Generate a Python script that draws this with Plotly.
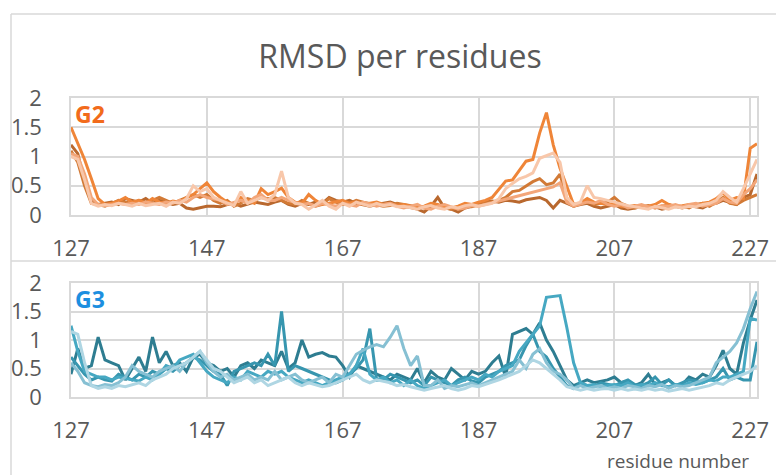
import plotly.graph_objects as go

residues = list(range(127, 229))

# ---- G2 series (RMSD per residue) ----
g2_dark = [1.20, 1.05, 0.55, 0.25, 0.18, 0.20, 0.22, 0.18, 0.28, 0.25,
           0.22, 0.28, 0.20, 0.25, 0.22, 0.18, 0.20, 0.12, 0.10, 0.12,
           0.15, 0.15, 0.14, 0.18, 0.20, 0.15, 0.18, 0.22, 0.20, 0.18,
           0.22, 0.25, 0.18, 0.15, 0.20, 0.18, 0.22, 0.20, 0.30, 0.25,
           0.22, 0.25, 0.20, 0.18, 0.15, 0.18, 0.20, 0.22, 0.18, 0.15,
           0.12, 0.10, 0.05, 0.15, 0.30, 0.12, 0.10, 0.05, 0.12, 0.15,
           0.20, 0.22, 0.24, 0.22, 0.25, 0.24, 0.22, 0.26, 0.28, 0.30,
           0.25, 0.12, 0.25, 0.20, 0.15, 0.18, 0.20, 0.15, 0.12, 0.15,
           0.18, 0.12, 0.10, 0.12, 0.15, 0.12, 0.14, 0.10, 0.12, 0.15,
           0.12, 0.16, 0.14, 0.12, 0.18, 0.20, 0.25, 0.22, 0.18, 0.30,
           0.35, 0.70]
g2_medium = [1.10, 0.90, 0.50, 0.20, 0.18, 0.15, 0.20, 0.25, 0.22, 0.20,
             0.25, 0.22, 0.25, 0.30, 0.25, 0.20, 0.25, 0.30, 0.35, 0.30,
             0.35, 0.25, 0.20, 0.25, 0.15, 0.20, 0.28, 0.25, 0.30, 0.28,
             0.30, 0.25, 0.20, 0.18, 0.25, 0.20, 0.15, 0.18, 0.28, 0.22,
             0.18, 0.20, 0.25, 0.22, 0.20, 0.18, 0.15, 0.16, 0.20, 0.18,
             0.16, 0.14, 0.12, 0.18, 0.15, 0.12, 0.10, 0.12, 0.15, 0.14,
             0.18, 0.20, 0.22, 0.25, 0.30, 0.40, 0.42, 0.50, 0.57, 0.62,
             0.52, 0.55, 0.70, 0.28, 0.15, 0.20, 0.25, 0.18, 0.20, 0.22,
             0.30, 0.20, 0.15, 0.12, 0.14, 0.16, 0.12, 0.15, 0.18, 0.14,
             0.15, 0.12, 0.18, 0.20, 0.15, 0.22, 0.30, 0.20, 0.18, 0.25,
             0.30, 0.35]
g2_bright = [1.50, 1.22, 0.95, 0.62, 0.28, 0.18, 0.20, 0.24, 0.30, 0.22,
             0.25, 0.20, 0.28, 0.22, 0.20, 0.24, 0.22, 0.30, 0.35, 0.45,
             0.55, 0.40, 0.30, 0.22, 0.18, 0.30, 0.25, 0.20, 0.45, 0.35,
             0.40, 0.46, 0.30, 0.22, 0.20, 0.35, 0.25, 0.18, 0.20, 0.22,
             0.25, 0.20, 0.22, 0.18, 0.20, 0.22, 0.18, 0.20, 0.16, 0.18,
             0.15, 0.12, 0.15, 0.20, 0.18, 0.14, 0.12, 0.15, 0.20, 0.18,
             0.22, 0.25, 0.30, 0.45, 0.58, 0.60, 0.75, 0.92, 0.95, 1.40,
             1.75, 1.20, 0.80, 0.50, 0.18, 0.20, 0.28, 0.22, 0.20, 0.18,
             0.20, 0.15, 0.14, 0.16, 0.14, 0.15, 0.18, 0.25, 0.18, 0.15,
             0.16, 0.18, 0.15, 0.20, 0.22, 0.28, 0.38, 0.25, 0.30, 0.28,
             1.14, 1.22]
g2_light = [1.05, 1.00, 0.70, 0.30, 0.18, 0.16, 0.18, 0.20, 0.18, 0.20,
            0.18, 0.22, 0.20, 0.18, 0.22, 0.20, 0.25, 0.22, 0.30, 0.35,
            0.30, 0.28, 0.25, 0.18, 0.22, 0.25, 0.20, 0.30, 0.35, 0.25,
            0.25, 0.30, 0.25, 0.22, 0.18, 0.20, 0.15, 0.20, 0.18, 0.15,
            0.20, 0.18, 0.15, 0.22, 0.18, 0.15, 0.18, 0.20, 0.15, 0.12,
            0.15, 0.18, 0.12, 0.10, 0.15, 0.18, 0.14, 0.10, 0.12, 0.16,
            0.15, 0.18, 0.22, 0.25, 0.28, 0.30, 0.33, 0.36, 0.40, 0.42,
            0.45, 0.48, 0.55, 0.22, 0.15, 0.18, 0.22, 0.20, 0.25, 0.18,
            0.15, 0.18, 0.12, 0.15, 0.18, 0.14, 0.12, 0.16, 0.15, 0.18,
            0.14, 0.18, 0.20, 0.15, 0.18, 0.20, 0.28, 0.22, 0.20, 0.35,
            0.45, 0.60]
g2_pale = [1.00, 0.95, 0.60, 0.20, 0.15, 0.18, 0.16, 0.20, 0.18, 0.15,
           0.20, 0.16, 0.18, 0.20, 0.15, 0.22, 0.20, 0.28, 0.50, 0.40,
           0.45, 0.30, 0.25, 0.20, 0.16, 0.40, 0.20, 0.25, 0.30, 0.25,
           0.35, 0.75, 0.30, 0.20, 0.18, 0.10, 0.18, 0.25, 0.15, 0.10,
           0.20, 0.15, 0.22, 0.18, 0.15, 0.20, 0.16, 0.18, 0.14, 0.15,
           0.12, 0.10, 0.14, 0.16, 0.12, 0.10, 0.14, 0.12, 0.16, 0.18,
           0.15, 0.18, 0.20, 0.28, 0.45, 0.54, 0.62, 0.66, 0.72, 0.97,
           1.02, 1.06, 0.90, 0.30, 0.18, 0.22, 0.50, 0.30, 0.28, 0.25,
           0.22, 0.18, 0.16, 0.14, 0.12, 0.10, 0.15, 0.12, 0.10, 0.14,
           0.12, 0.15, 0.14, 0.18, 0.20, 0.25, 0.40, 0.30, 0.22, 0.45,
           0.70, 0.95]

# ---- G3 series ----
g3_dark = [0.40, 0.85, 0.50, 0.55, 1.05, 0.65, 0.60, 0.55, 0.30, 0.50,
           0.70, 0.45, 1.05, 0.60, 0.80, 0.55, 0.60, 0.45, 0.70, 0.75,
           0.60, 0.55, 0.45, 0.50, 0.35, 0.55, 0.60, 0.50, 0.65, 0.60,
           0.55, 0.80, 0.50, 0.60, 1.00, 0.70, 0.75, 0.78, 0.72, 0.70,
           0.55, 0.35, 0.55, 0.50, 0.45, 0.40, 0.35, 0.30, 0.40, 0.35,
           0.30, 0.50, 0.25, 0.45, 0.35, 0.30, 0.50, 0.40, 0.30, 0.45,
           0.40, 0.45, 0.60, 0.72, 0.35, 1.10, 1.15, 1.20, 1.10, 1.30,
           1.00, 0.80, 0.55, 0.30, 0.20, 0.25, 0.30, 0.25, 0.28, 0.30,
           0.35, 0.25, 0.28, 0.20, 0.25, 0.40, 0.22, 0.25, 0.30, 0.20,
           0.22, 0.35, 0.30, 0.40, 0.35, 0.55, 0.82, 0.50, 0.40, 0.95,
           1.35, 1.70]
g3_medium = [0.70, 0.55, 0.40, 0.30, 0.35, 0.30, 0.28, 0.40, 0.35, 0.30,
             0.40, 0.35, 0.45, 0.40, 0.50, 0.45, 0.55, 0.60, 0.70, 0.65,
             0.55, 0.45, 0.40, 0.20, 0.45, 0.50, 0.55, 0.60, 0.55, 0.75,
             0.55, 1.50, 0.45, 0.55, 0.50, 0.45, 0.40, 0.35, 0.30, 0.25,
             0.30, 0.40, 0.50, 0.65, 1.20, 0.30, 0.30, 0.40, 0.35, 0.30,
             0.25, 0.30, 0.20, 0.35, 0.30, 0.25, 0.20, 0.30, 0.35, 0.28,
             0.25, 0.35, 0.40, 0.45, 0.55, 0.60, 0.65, 0.90, 1.10, 0.80,
             0.70, 0.50, 0.35, 0.20, 0.15, 0.25, 0.20, 0.18, 0.25, 0.22,
             0.20, 0.25, 0.30, 0.22, 0.20, 0.25, 0.35, 0.22, 0.30, 0.20,
             0.25, 0.30, 0.28, 0.25, 0.30, 0.35, 0.50, 0.30, 0.35, 0.30,
             0.30, 0.97]
g3_bright = [1.25, 0.80, 0.45, 0.40, 0.35, 0.35, 0.30, 0.35, 0.32, 0.30,
             0.28, 0.35, 0.30, 0.40, 0.55, 0.50, 0.65, 0.70, 0.75, 0.60,
             0.45, 0.35, 0.30, 0.25, 0.35, 0.30, 0.45, 0.40, 0.35, 0.45,
             0.40, 0.45, 0.35, 0.30, 0.25, 0.30, 0.25, 0.20, 0.25, 0.30,
             0.35, 0.40, 0.55, 0.85, 0.40, 0.30, 0.35, 0.25, 0.30, 0.20,
             0.30, 0.20, 0.15, 0.20, 0.25, 0.30, 0.20, 0.25, 0.30, 0.35,
             0.30, 0.40, 0.35, 0.45, 0.50, 0.55, 0.80, 0.95, 1.10, 1.25,
             1.75, 1.76, 1.78, 1.22, 0.60, 0.25, 0.20, 0.22, 0.18, 0.20,
             0.22, 0.20, 0.25, 0.18, 0.22, 0.20, 0.25, 0.20, 0.18, 0.22,
             0.20, 0.25, 0.22, 0.25, 0.30, 0.28, 0.35, 0.35, 0.40, 0.45,
             1.38, 1.35]
g3_light = [0.60, 0.45, 0.25, 0.20, 0.18, 0.22, 0.20, 0.25, 0.35, 0.55,
            0.45, 0.40, 0.35, 0.45, 0.50, 0.55, 0.45, 0.60, 0.70, 0.80,
            0.60, 0.45, 0.35, 0.40, 0.30, 0.35, 0.40, 0.30, 0.35, 0.30,
            0.45, 0.30, 0.35, 0.40, 0.30, 0.25, 0.30, 0.35, 0.25, 0.40,
            0.35, 0.55, 0.75, 0.82, 0.88, 0.92, 0.88, 1.05, 1.25, 0.85,
            0.55, 0.72, 0.20, 0.20, 0.30, 0.15, 0.20, 0.18, 0.22, 0.25,
            0.20, 0.25, 0.30, 0.35, 0.40, 0.45, 0.65, 0.50, 0.75, 0.85,
            0.60, 0.45, 0.40, 0.30, 0.15, 0.20, 0.15, 0.18, 0.20, 0.15,
            0.18, 0.15, 0.20, 0.18, 0.15, 0.20, 0.18, 0.22, 0.15, 0.20,
            0.18, 0.20, 0.25, 0.30, 0.35, 0.60, 0.70, 0.80, 0.95, 1.20,
            1.55, 1.85]
g3_pale = [1.15, 1.10, 0.60, 0.20, 0.15, 0.18, 0.15, 0.20, 0.18, 0.22,
           0.25, 0.20, 0.30, 0.35, 0.40, 0.50, 0.55, 0.60, 0.70, 0.80,
           0.65, 0.50, 0.45, 0.35, 0.25, 0.30, 0.35, 0.25, 0.30, 0.20,
           0.25, 0.30, 0.35, 0.25, 0.20, 0.25, 0.22, 0.18, 0.20, 0.25,
           0.30, 0.35, 0.40, 0.30, 0.25, 0.30, 0.28, 0.25, 0.20, 0.22,
           0.18, 0.15, 0.12, 0.15, 0.18, 0.20, 0.15, 0.12, 0.15, 0.20,
           0.18, 0.22, 0.25, 0.30, 0.35, 0.40, 0.45, 0.55, 0.65, 0.60,
           0.50, 0.40, 0.30, 0.18, 0.15, 0.12, 0.15, 0.12, 0.14, 0.15,
           0.12, 0.15, 0.12, 0.14, 0.12, 0.15, 0.12, 0.14, 0.10, 0.12,
           0.15, 0.12, 0.15, 0.18, 0.20, 0.25, 0.22, 0.30, 0.35, 0.40,
           0.45, 0.55]

x_tickvals = [127, 147, 167, 187, 207, 227]
y_tickvals = [0, 0.5, 1, 1.5, 2]
y_ticktext = ["0", "0.5", "1", "1.5", "2"]

g2_series = [("G2 a", g2_dark, "#B9682E"), ("G2 b", g2_medium, "#D27A36"),
             ("G2 c", g2_bright, "#EF8538"), ("G2 d", g2_light, "#F3A679"),
             ("G2 e", g2_pale, "#F8C7AA")]
g3_series = [("G3 a", g3_dark, "#2E7D91"), ("G3 b", g3_medium, "#3796AF"),
             ("G3 c", g3_bright, "#46A8C2"), ("G3 d", g3_light, "#86C0D3"),
             ("G3 e", g3_pale, "#AFD6E3")]

W, H = 776, 475
fig = go.Figure()
for name, vals, col in g2_series:
    fig.add_trace(go.Scatter(x=residues, y=vals, mode="lines", name=name,
                             line=dict(color=col, width=3), xaxis="x", yaxis="y"))
for name, vals, col in g3_series:
    fig.add_trace(go.Scatter(x=residues, y=vals, mode="lines", name=name,
                             line=dict(color=col, width=3), xaxis="x2", yaxis="y2"))

TXT = "#595959"
GRID = "#D9D9D9"
FONT = "Open Sans"

def px_x(p):
    return p / W

def px_y(p):
    return 1 - p / H

xdom = [px_x(71), px_x(757)]
common_x = dict(range=[127, 228], tickmode="array", tickvals=x_tickvals,
                showgrid=True, gridcolor=GRID, gridwidth=1.5, showline=True,
                linecolor=GRID, linewidth=1.5, mirror=True, ticks="",
                tickfont=dict(family=FONT, size=22, color=TXT), automargin=False,
                ticklabelstandoff=13, zeroline=False, fixedrange=True)
common_y = dict(range=[0, 2], tickmode="array", tickvals=y_tickvals, ticktext=y_ticktext,
                showgrid=True, gridcolor=GRID, gridwidth=1.5, showline=True,
                linecolor=GRID, linewidth=1.5, mirror=True, ticks="",
                tickfont=dict(family=FONT, size=22, color=TXT), automargin=False,
                ticklabelstandoff=23, zeroline=False, fixedrange=True)

fig.update_layout(
    width=W, height=H, margin=dict(l=0, r=0, t=0, b=0, pad=0, autoexpand=False),
    paper_bgcolor="white", plot_bgcolor="white", showlegend=False,
    title=dict(text="RMSD per residues", x=px_x(400), y=px_y(57), xanchor="center",
               yanchor="middle", automargin=False,
               font=dict(family=FONT, size=32, color=TXT)),
    xaxis=dict(domain=xdom, anchor="y", **common_x),
    yaxis=dict(domain=[px_y(215), px_y(98)], anchor="x", **common_y),
    xaxis2=dict(domain=xdom, anchor="y2", **common_x),
    yaxis2=dict(domain=[px_y(397), px_y(283)], anchor="x2", **common_y),
)

fig.add_annotation(text="<b>G2</b>", xref="paper", yref="paper", x=px_x(73), y=px_y(114),
                   xanchor="left", yanchor="middle", showarrow=False,
                   font=dict(family=FONT, size=23, color="#F26B1B"))
fig.add_annotation(text="<b>G3</b>", xref="paper", yref="paper", x=px_x(73), y=px_y(299),
                   xanchor="left", yanchor="middle", showarrow=False,
                   font=dict(family=FONT, size=23, color="#1C8FE0"))
fig.add_annotation(text="residue number", xref="paper", yref="paper", x=px_x(751), y=px_y(461),
                   xanchor="right", yanchor="middle", showarrow=False,
                   font=dict(family=FONT, size=19, color=TXT))

# chart frames
frame = dict(color="#D9D9D9", width=1.5)
fig.add_shape(type="line", xref="paper", yref="paper", x0=px_x(11), x1=1, y0=px_y(14), y1=px_y(14), line=frame)
fig.add_shape(type="line", xref="paper", yref="paper", x0=px_x(11), x1=px_x(11), y0=0, y1=px_y(14), line=frame)
fig.add_shape(type="line", xref="paper", yref="paper", x0=px_x(11), x1=1, y0=px_y(261), y1=px_y(261), line=frame)

fig.write_html("out.html", config={"displayModeBar": False},
               post_script="document.body.style.margin='0';document.body.style.overflow='hidden';")
